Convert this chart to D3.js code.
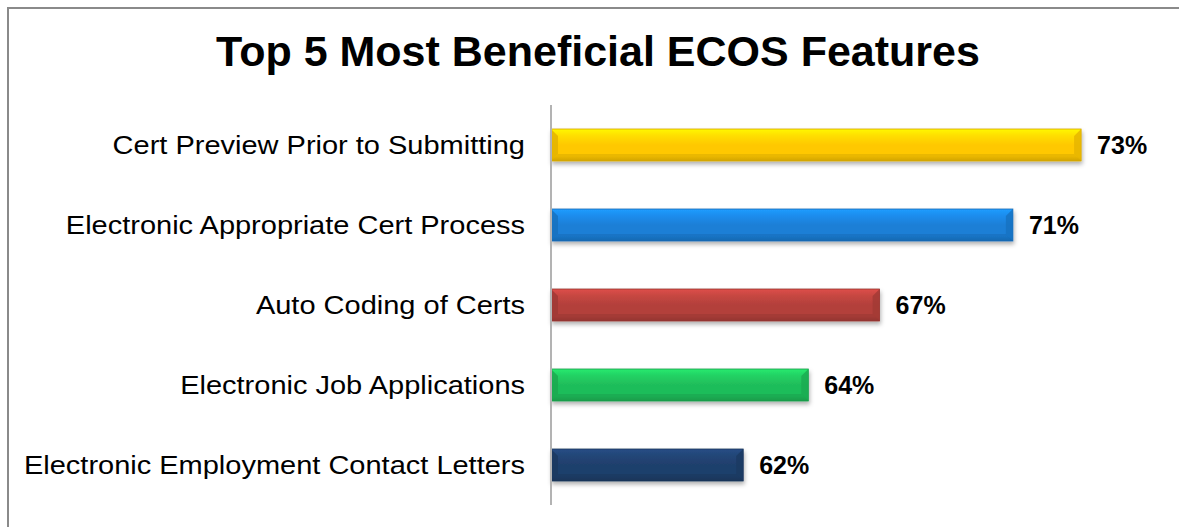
<!DOCTYPE html>
<html>
<head>
<meta charset="utf-8">
<script src="https://cdn.jsdelivr.net/npm/d3@7"></script>
<style>
  body { margin: 0; background: #fff; overflow: hidden; }
  svg { display: block; font-family: "Liberation Sans", Arial, sans-serif; }
</style>
</head>
<body>
<svg width="1179" height="527"></svg>
<script>
// values (labels show them rounded)
const categories = [
	"Cert Preview Prior to Submitting",
	"Electronic Appropriate Cert Process",
	"Auto Coding of Certs",
	"Electronic Job Applications",
	"Electronic Employment Contact Letters",
];
const values = [0.731, 0.709, 0.666, 0.643, 0.622];
const barColors = ["#ffc800", "#1a7fd6", "#b3403b", "#1fbd5a", "#1f3f6c"];
const chartTitle = "Top 5 Most Beneficial ECOS Features";

const svg = d3.select("svg");
const defs = svg.append("defs");

// frame: only the top and left edges are in the picture
svg.append("path")
	.attr("d", "M8,527 L8,8 L1179,8")
	.attr("fill", "none")
	.attr("stroke", "#8a8a8a")
	.attr("stroke-width", 2);

svg.append("text")
	.attr("x", 598).attr("y", 66)
	.attr("text-anchor", "middle")
	.attr("font-size", 43)
	.attr("font-weight", "bold")
	.attr("fill", "#000")
	.text(chartTitle);

const xScale = d3.scaleLinear().domain([0.56, 0.75]).range([551, 1140]);
const yScale = d3
	.scaleBand()
	.domain(categories)
	.range([105, 505])
	.paddingInner(0.6)
	.paddingOuter(0.3);

// shadow + gradients
const shadow = defs.append("filter").attr("id", "shadow")
	.attr("x", "-5%").attr("y", "-30%").attr("width", "110%").attr("height", "180%");
shadow.append("feDropShadow")
	.attr("dx", 1).attr("dy", 3).attr("stdDeviation", 2)
	.attr("flood-color", "#000").attr("flood-opacity", 0.3);

barColors.forEach((c, i) => {
	const g = defs.append("linearGradient").attr("id", "grad" + i)
		.attr("x1", 0).attr("y1", 0).attr("x2", 0).attr("y2", 1);
	const base = d3.color(c);
	g.append("stop").attr("offset", "0%").attr("stop-color", base.brighter(0.6));
	g.append("stop").attr("offset", "20%").attr("stop-color", base.brighter(0.3));
	g.append("stop").attr("offset", "50%").attr("stop-color", base);
	g.append("stop").attr("offset", "85%").attr("stop-color", base);
	g.append("stop").attr("offset", "100%").attr("stop-color", base.darker(0.6));
});

const rows = svg.selectAll(".bar")
	.data(categories)
	.enter()
	.append("g")
	.classed("bar", true)
	.attr("transform", (d) => `translate(0,${yScale(d)})`);

const bw = yScale.bandwidth();
const bev = 7;

rows.append("rect")
	.attr("x", xScale(0.56))
	.attr("y", 0)
	.attr("width", (d, i) => xScale(values[i]) - xScale(0.56))
	.attr("height", bw)
	.attr("fill", (d, i) => `url(#grad${i})`)
	.attr("stroke", (d, i) => d3.color(barColors[i]).darker(0.5))
	.attr("stroke-width", 0.8)
	.attr("filter", "url(#shadow)");

// bevel: darker ends and bottom edge
rows.append("path")
	.attr("d", (d, i) => {
		const x0 = xScale(0.56);
		return `M${x0},0 L${x0 + bev},${bev} L${x0 + bev},${bw - bev} L${x0},${bw} Z`;
	})
	.attr("fill", (d, i) => d3.color(barColors[i]).darker(0.35))
	.attr("opacity", 0.8);

rows.append("path")
	.attr("d", (d, i) => {
		const x1 = xScale(values[i]);
		return `M${x1},0 L${x1 - bev},${bev} L${x1 - bev},${bw - bev} L${x1},${bw} Z`;
	})
	.attr("fill", (d, i) => d3.color(barColors[i]).darker(0.3))
	.attr("opacity", 0.8);

rows.append("path")
	.attr("d", (d, i) => {
		const x0 = xScale(0.56), x1 = xScale(values[i]);
		return `M${x0},${bw} L${x0 + bev},${bw - bev} L${x1 - bev},${bw - bev} L${x1},${bw} Z`;
	})
	.attr("fill", (d, i) => d3.color(barColors[i]).darker(0.5))
	.attr("opacity", 0.5);

// axis line
svg.append("line")
	.attr("x1", xScale(0.56)).attr("x2", xScale(0.56))
	.attr("y1", 105).attr("y2", 505)
	.attr("stroke", "#b3b3b3")
	.attr("stroke-width", 2);

// category labels (the source font is set wider than Arial)
rows.append("text")
	.attr("transform", `translate(525,${bw / 2}) scale(1.16,1)`)
	.attr("dy", "0.35em")
	.attr("text-anchor", "end")
	.attr("font-size", 25)
	.attr("fill", "#000")
	.text((d) => d);

// value labels
rows.append("text")
	.attr("x", (d, i) => xScale(values[i]) + 16)
	.attr("y", bw / 2)
	.attr("dy", "0.35em")
	.attr("font-size", 25)
	.attr("font-weight", "bold")
	.attr("fill", "#000")
	.text((d, i) => d3.format(".0%")(values[i]));
</script>
</body>
</html>
